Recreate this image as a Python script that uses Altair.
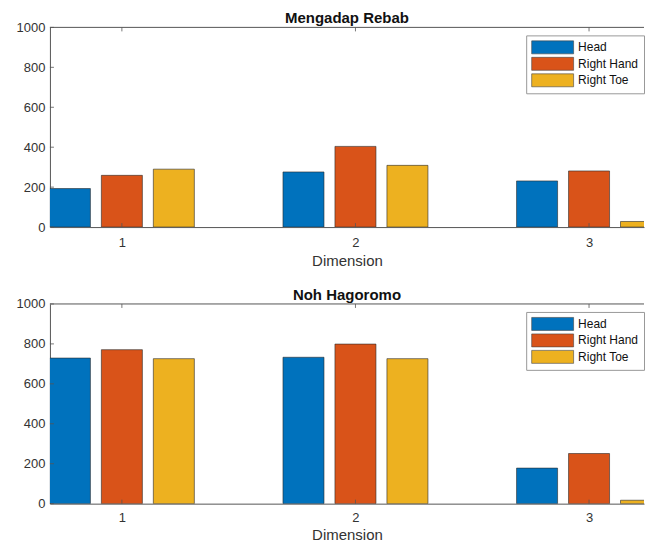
import altair as alt
import pandas as pd

dims = [1, 2, 3]
series = ["Head", "Right Hand", "Right Toe"]
titles = ["Mengadap Rebab", "Noh Hagoromo"]

rebab_head = [193, 276, 231]
rebab_right_hand = [259, 404, 281]
rebab_right_toe = [290, 309, 28]

noh_head = [729, 733, 178]
noh_right_hand = [771, 799, 251]
noh_right_toe = [726, 726, 17]

y_ticks = [0, 200, 400, 600, 800, 1000]
colors = ["#0072BD", "#D95319", "#EDB120"]

FONT = "Liberation Sans"
AX = "#555555"
LBL = "#333333"
W, H = 595, 200
XDOM = [0.692, 3.2353]
GAP = 0.2225
HALF = 0.0878


def panel(title, vals, lab_pad, title_pad):
    rows = []
    for si, s in enumerate(series):
        for d, v in zip(dims, vals[si]):
            rows.append({"dim": d, "series": s, "k": si - 1, "value": v})
    df = pd.DataFrame(rows)
    xs = alt.Scale(domain=XDOM, nice=False, zero=False)
    ys = alt.Scale(domain=[0, 1000], nice=False)
    xaxis = alt.Axis(
        values=dims, title="Dimension", ticks=False, grid=False,
        domainColor=AX, labelPadding=lab_pad, titlePadding=title_pad,
        labelFontSize=13, titleFontSize=15, titleFontWeight="normal",
        labelColor=LBL, titleColor=LBL, labelFont=FONT, titleFont=FONT,
        format="d")
    yaxis = alt.Axis(
        values=y_ticks, title=None, ticks=False, grid=False,
        domainColor=AX, labelPadding=5, minExtent=42, maxExtent=42,
        labelFontSize=13, labelColor=LBL, labelFont=FONT, format="d")

    bars = alt.Chart(df).transform_calculate(
        x0=f"datum.dim + datum.k*{GAP} - {HALF}",
        x1=f"datum.dim + datum.k*{GAP} + {HALF}",
        zero="0",
    ).mark_rect(clip=True, stroke="#2a2a2a", strokeWidth=0.6).encode(
        x=alt.X("x0:Q", scale=xs, axis=xaxis, title="Dimension"),
        x2="x1:Q",
        y=alt.Y("value:Q", scale=ys, axis=yaxis, title=None),
        y2="zero:Q",
        color=alt.Color("series:N", scale=alt.Scale(domain=series, range=colors),
                        legend=alt.Legend(
                            title=None, orient="none", legendX=477, legendY=8,
                            symbolType="M-1,-1H5.46V1H-1Z", symbolSize=169,
                            symbolStrokeColor="#444444", symbolStrokeWidth=0.6,
                            labelFontSize=12, labelFont=FONT, labelColor="#111111",
                            labelOffset=33, rowPadding=0.5, padding=5,
                            fillColor="white", strokeColor="#999999",
                            symbolOpacity=1)),
    )

    tick_df = pd.DataFrame({"dim": dims})
    xt_bottom = alt.Chart(tick_df).mark_rule(color=AX, strokeWidth=0.8).encode(
        x=alt.X("dim:Q", scale=xs, axis=xaxis, title="Dimension"),
        y=alt.value(H), y2=alt.value(H - 4))
    xt_top = alt.Chart(tick_df).mark_rule(color=AX, strokeWidth=0.8).encode(
        x=alt.X("dim:Q", scale=xs, axis=xaxis, title="Dimension"),
        y=alt.value(0), y2=alt.value(4))
    yt = alt.Chart(pd.DataFrame({"v": y_ticks})).mark_rule(color=AX, strokeWidth=0.8).encode(
        y=alt.Y("v:Q", scale=ys, axis=yaxis, title=None),
        x=alt.value(0), x2=alt.value(4))
    top = alt.Chart(pd.DataFrame({"a": [0]})).mark_rule(color=AX, strokeWidth=1).encode(
        x=alt.value(0), x2=alt.value(W), y=alt.value(0))

    return alt.layer(bars, xt_bottom, xt_top, yt, top).properties(
        width=W, height=H,
        title=alt.TitleParams(title, fontSize=15, fontWeight="bold", font=FONT,
                              color="#111111", offset=-5, anchor="middle"),
    )


p1 = panel(titles[0], [rebab_head, rebab_right_hand, rebab_right_toe], 9, 4)
p2 = panel(titles[1], [noh_head, noh_right_hand, noh_right_toe], 8, 3)

chart = alt.vconcat(p1, p2, spacing=20).resolve_scale(color="independent").resolve_legend(
    color="independent").properties(
    padding={"left": 0, "top": 3, "right": 0, "bottom": 0}
).configure_view(stroke=None)

chart.save("out.html", embed_options={"renderer": "svg", "actions": False})
